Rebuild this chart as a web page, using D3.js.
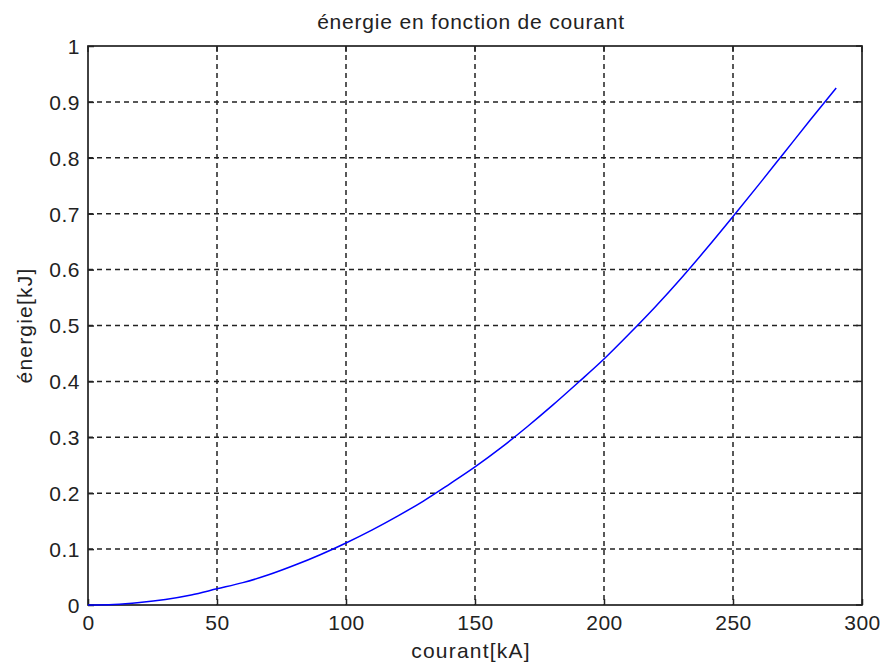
<!DOCTYPE html>
<html>
<head>
<meta charset="utf-8">
<script src="https://cdn.jsdelivr.net/npm/d3@7"></script>
<style>
    body { margin: 0; background: #fff; }
    text { font-family: "Liberation Sans", Arial, sans-serif; fill: #222; }
</style>
</head>
<body>
<svg id="chart"></svg>
<script>
// courant [kA] et énergie [kJ]
const courant = [0, 10, 20, 30, 40, 50, 60, 70, 80, 90, 100, 110, 120, 130, 140,
    150, 160, 170, 180, 190, 200, 210, 220, 230, 240, 250, 260, 270, 280, 290];
const energie = [0, 0.001, 0.0045, 0.010, 0.018, 0.029, 0.040, 0.054, 0.071, 0.090,
    0.111, 0.134, 0.159, 0.186, 0.216, 0.247, 0.281, 0.318, 0.357, 0.398,
    0.440, 0.486, 0.534, 0.585, 0.639, 0.695, 0.752, 0.810, 0.868, 0.925];
const xTicks = [0, 50, 100, 150, 200, 250, 300];
const yTicks = [0, 0.1, 0.2, 0.3, 0.4, 0.5, 0.6, 0.7, 0.8, 0.9, 1];

const width = 880, height = 662;
const margin = { left: 88, right: 18, top: 46, bottom: 57 };
const innerW = width - margin.left - margin.right;
const innerH = height - margin.top - margin.bottom;

const svg = d3.select('#chart').attr('width', width).attr('height', height);

const x = d3.scaleLinear().domain([0, 300]).range([0, innerW]);
const y = d3.scaleLinear().domain([0, 1]).range([innerH, 0]);

const g = svg.append('g').attr('transform', `translate(${margin.left},${margin.top})`);

// grille pointillée
g.selectAll('.vgrid').data(xTicks.slice(1, -1)).enter().append('line')
    .attr('x1', d => x(d)).attr('x2', d => x(d))
    .attr('y1', 0).attr('y2', innerH)
    .attr('stroke', '#222').attr('stroke-width', 1.5).attr('stroke-dasharray', '5,4');
g.selectAll('.hgrid').data(yTicks.slice(1, -1)).enter().append('line')
    .attr('x1', 0).attr('x2', innerW)
    .attr('y1', d => y(d)).attr('y2', d => y(d))
    .attr('stroke', '#222').attr('stroke-width', 1.5).attr('stroke-dasharray', '5,4');

// axes (ticks vers l'intérieur)
const xAxis = g.append('g').attr('transform', `translate(0,${innerH})`)
    .call(d3.axisBottom(x).tickValues(xTicks).tickSizeInner(-6).tickSizeOuter(0).tickPadding(10).tickFormat(d3.format('d')));
const yAxis = g.append('g')
    .call(d3.axisLeft(y).tickValues(yTicks).tickSizeInner(-6).tickSizeOuter(0).tickPadding(8).tickFormat(d => d === 0 || d === 1 ? d : d3.format('.1f')(d)));
[xAxis, yAxis].forEach(a => {
    a.select('.domain').remove();
    a.selectAll('.tick line').attr('stroke', '#222').attr('stroke-width', 1.5);
    a.selectAll('.tick text').style('font-size', '21px').style('letter-spacing', '0.5px').attr('fill', '#222')
        .style('font-family', '"Liberation Sans", Arial, sans-serif');
});
yAxis.selectAll('.tick text').attr('dy', '0.35em');
xAxis.selectAll('.tick text').attr('dy', '0.7em');

// ticks sur les bords haut et droit
g.selectAll('.ttop').data(xTicks).enter().append('line')
    .attr('x1', d => x(d)).attr('x2', d => x(d)).attr('y1', 0).attr('y2', 6)
    .attr('stroke', '#222').attr('stroke-width', 1.5);
g.selectAll('.tright').data(yTicks).enter().append('line')
    .attr('x1', innerW - 6).attr('x2', innerW).attr('y1', d => y(d)).attr('y2', d => y(d))
    .attr('stroke', '#222').attr('stroke-width', 1.5);

// cadre
g.append('rect').attr('width', innerW).attr('height', innerH)
    .attr('fill', 'none').attr('stroke', '#222').attr('stroke-width', 1.7);

// courbe
const line = d3.line().x((d, i) => x(courant[i])).y(d => y(d)).curve(d3.curveMonotoneX);
g.append('path').datum(energie)
    .attr('d', line).attr('fill', 'none').attr('stroke', '#0000ff').attr('stroke-width', 1.5);

// titres
svg.append('text').attr('x', margin.left + innerW / 2 - 4).attr('y', 29)
    .attr('text-anchor', 'middle').style('font-size', '21px').style('letter-spacing', '0.8px')
    .text('énergie en fonction de courant');
svg.append('text').attr('x', margin.left + innerW / 2 - 4).attr('y', 658)
    .attr('text-anchor', 'middle').style('font-size', '21px').style('letter-spacing', '1.2px')
    .text('courant[kA]');
svg.append('text').attr('transform', `translate(32,${margin.top + innerH / 2}) rotate(-90)`)
    .attr('text-anchor', 'middle').style('font-size', '21px').style('letter-spacing', '1.2px')
    .text('énergie[kJ]');
</script>
</body>
</html>
